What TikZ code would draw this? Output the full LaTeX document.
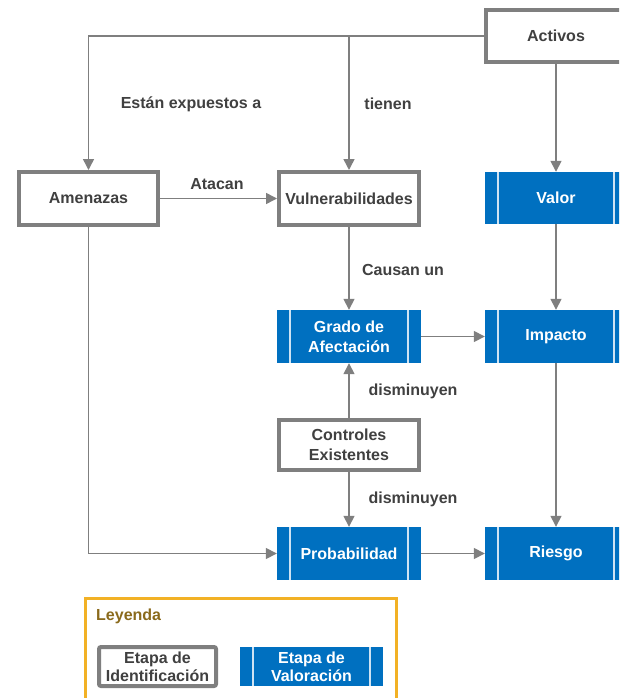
\documentclass[tikz,border=0pt]{standalone}
\usepackage{fontspec}
\setmainfont{Liberation Sans}
\usetikzlibrary{arrows.meta}
\definecolor{boxgray}{HTML}{7F7F7F}
\definecolor{valblue}{HTML}{0070C0}
\definecolor{txt}{HTML}{404040}
\definecolor{legframe}{HTML}{F2B125}
\definecolor{legtitle}{HTML}{8A6A1C}
\definecolor{sepline}{HTML}{CFE3F3}
\tikzset{
  idbox/.style={draw=boxgray, line width=4pt, fill=white, inner sep=0pt,
    align=center, text=txt},
  valbox/.style={fill=valblue, inner sep=0pt, align=center, text=white,
    path picture={
      \draw[sepline, line width=1.2pt]
        ([xshift=13pt]path picture bounding box.north west) --
        ([xshift=13pt]path picture bounding box.south west)
        ([xshift=-13pt]path picture bounding box.north east) --
        ([xshift=-13pt]path picture bounding box.south east);
    }},
  conn/.style={draw=boxgray, line width=1.5pt,
    -{Triangle[length=11pt,width=11pt]}},
  lbl/.style={text=txt, inner sep=0pt},
}
\begin{document}
\begin{tikzpicture}[x=1pt, y=-1pt,
    font=\fontsize{16}{20}\selectfont\bfseries]
\useasboundingbox (0,0) rectangle (619,698);
\clip (0,0) rectangle (619,698);

% identification stage (grey frames)
\node[idbox, minimum width=140pt, minimum height=52pt] (act) at (556,36) {Activos};
\node[idbox, minimum width=139pt, minimum height=53pt] (ame) at (88.5,198.5) {Amenazas};
\node[idbox, minimum width=140pt, minimum height=53pt] (vul) at (349,198.5) {Vulnerabilidades};
\node[idbox, minimum width=140pt, minimum height=50pt] (con) at (349,445) {Controles\\Existentes};

% valuation stage (blue blocks)
\node[valbox, minimum width=142pt, minimum height=52pt] (val) at (556,198) {Valor};
\node[valbox, minimum width=144pt, minimum height=53pt] (gra) at (349,336.5) {Grado de\\Afectación};
\node[valbox, minimum width=142pt, minimum height=53pt] (imp) at (556,336.5) {Impacto};
\node[valbox, minimum width=144pt, minimum height=53pt] (pro) at (349,553.5) {Probabilidad};
\node[valbox, minimum width=142pt, minimum height=53pt] (rie) at (556,553.5) {Riesgo};

% connectors
\coordinate (br) at (vul.north |- act.west);
\draw[conn] (act.west) -| (ame.north);
\draw[conn] (br) -- (vul.north);
\draw[conn] (act.south) -- (val.north);
\draw[conn] (ame.east) -- (vul.west);
\draw[conn] (vul.south) -- (gra.north);
\draw[conn] (val.south) -- (imp.north);
\draw[conn] (gra.east) -- (imp.west);
\draw[conn] (con.north) -- (gra.south);
\draw[conn] (con.south) -- (pro.north);
\draw[conn] (ame.south) |- (pro.west);
\draw[conn] (pro.east) -- (rie.west);
\draw[conn] (imp.south) -- (rie.north);

% connector labels
\node[lbl] (l1) at (191,104) {Están expuestos a};
\node[lbl] (l2) at (388,104) {tienen};
\node[lbl] (l3) at (217,184) {Atacan};
\node[lbl] (l4) at (403,270) {Causan un};
\node[lbl] (l5) at (413,391) {disminuyen};
\node[lbl] (l6) at (413,499) {disminuyen};

% legend
\draw[legframe, line width=3pt] (85,598) rectangle (396,712);
\node[anchor=west, text=legtitle, inner sep=0pt] (leg) at (96,616) {Leyenda};
\node[idbox, rounded corners=2pt, minimum width=117pt, minimum height=39pt,
  font=\fontsize{16}{18}\selectfont\bfseries] (lid) at (157.5,666.5) {Etapa de\\Identificación};
\node[valbox, minimum width=143pt, minimum height=39pt,
  font=\fontsize{16}{18}\selectfont\bfseries] (lva) at (311.5,666.5) {Etapa de\\Valoración};
\end{tikzpicture}
\end{document}
